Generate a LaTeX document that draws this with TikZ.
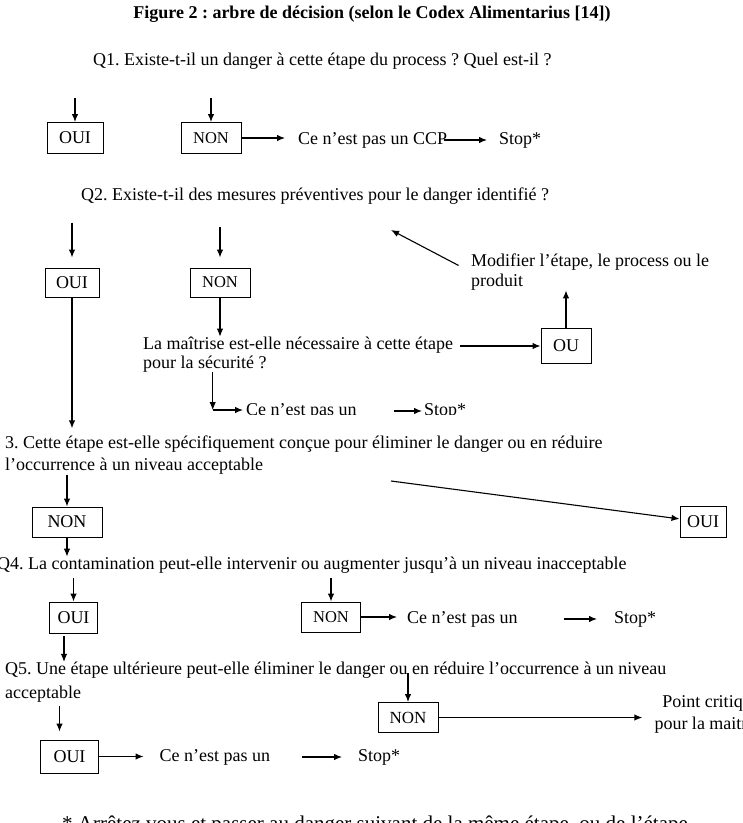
\documentclass[tikz,border=0pt]{standalone}
\usepackage{fontspec}
\setmainfont{Liberation Serif}
\usetikzlibrary{positioning,arrows.meta}
\frenchspacing

\begin{document}
\begin{tikzpicture}[
  x=1pt, y=-1pt,
  answer/.style={draw, line width=1pt, minimum width=56pt, minimum height=31pt, inner sep=0pt},
  question/.style={anchor=west, inner sep=0pt, align=left},
  link/.style={line width=1.1pt, -{Latex[length=8pt,width=6.5pt]}},
  every node/.style={font=\fontsize{18}{20.5}\selectfont}
]
\useasboundingbox (0,0) rectangle (743,823);
\clip (0,0) rectangle (743,823);

\node[font=\bfseries\fontsize{18}{20}\selectfont] (title) at (372,14)
  {Figure 2 : arbre de décision (selon le Codex Alimentarius [14])};

% Q1
\node[question] (q1) at (93,61) {Q1. Existe-t-il un danger à cette étape du process ? Quel est-il ?};
\node[answer] (q1oui) at (75,138) {OUI};
\node[answer, minimum width=60pt, font=\fontsize{16.5}{18}\selectfont] (q1non) at (211,138) {NON};
\node[question] (q1ccp) at (298,140) {Ce n’est pas un CCP};
\node[question] (q1stop) at (499,140) {Stop*};
\coordinate[above=24pt of q1oui.north] (q1in1);
\coordinate[above=24pt of q1non.north] (q1in2);
\draw[link] (q1in1) -- (q1oui);
\draw[link] (q1in2) -- (q1non);
\draw[link, shorten >=13pt] (q1non) -- (q1non -| q1ccp.west);
\draw[link, shorten <=-3pt, shorten >=12pt] (q1ccp.east) -- (q1stop.west);

% Q2
\node[question] (q2) at (81,196) {Q2. Existe-t-il des mesures préventives pour le danger identifié ?};
\node[answer, minimum width=54pt, minimum height=29pt] (q2oui) at (72,282.5) {OUI};
\node[answer, minimum width=60pt, minimum height=29pt, font=\fontsize{16.5}{18}\selectfont] (q2non) at (220,282.5) {NON};
\coordinate[above=45pt of q2oui.north] (q2in1);
\coordinate[above=41pt of q2non.north] (q2in2);
\draw[link, shorten >=10pt] (q2in1) -- (q2oui);
\draw[link, shorten >=10pt] (q2in2) -- (q2non);

\node[question, font=\fontsize{18}{19}\selectfont] (q2maitrise) at (143,354.5)
  {La maîtrise est-elle nécessaire à cette étape\\pour la sécurité ?};
\node[answer, minimum width=50pt, minimum height=35pt] (q2ou) at (566,346) {OU};
\node[question, font=\fontsize{18}{20}\selectfont] (q2modif) at (471,272)
  {Modifier l’étape, le process ou le\\produit};
\coordinate (q2back) at (391,230);
\draw[link] (q2non) -- (q2non.south |- q2maitrise.north);
\draw[link, shorten <=7pt] (q2maitrise.east |- q2ou) -- (q2ou);
\draw[link] (q2ou) -- (q2ou.north |- q2modif.south);
\draw[link, shorten <=14pt] (q2modif.west) -- (q2back);

\coordinate (q2turn) at (212.7,410);
\begin{scope}
  \clip (230,395) rectangle (480,414.5);
  \node[question] (q2ccp) at (246,411) {Ce n’est pas un};
  \node[question] (q2stop) at (424,411) {Stop*};
\end{scope}
\draw[link] (q2turn |- q2maitrise.south) -- (q2turn);
\draw[link, shorten >=3pt] (q2turn) -- (q2turn -| q2ccp.west);
\draw[link, shorten <=37pt, shorten >=2pt] (q2ccp.east) -- (q2stop.west);

% Q3
\node[question, font=\fontsize{18}{22.5}\selectfont] (q3) at (5,455)
  {3. Cette étape est-elle spécifiquement conçue pour éliminer le danger ou en réduire\\l’occurrence à un niveau acceptable};
\draw[link, shorten >=7pt] (q2oui) -- (q2oui.south |- q3.north);
\node[answer, minimum width=70pt, minimum height=30pt] (q3non) at (67,522) {NON};
\node[answer, minimum width=46pt] (q3oui) at (703,522) {OUI};
\coordinate (q3from) at (391,481);
\draw[link] (q3non.north |- q3.south) -- (q3non);
\draw[link] (q3from) -- (q3oui);

% Q4
\node[question] (q4) at (-3,565) {Q4. La contamination peut-elle intervenir ou augmenter jusqu’à un niveau inacceptable};
\draw[link] (q3non) -- (q3non.south |- q4.north);
\node[answer, minimum width=48pt] (q4oui) at (73.5,617.5) {OUI};
\node[answer, minimum width=59pt, minimum height=30pt, font=\fontsize{16.5}{18}\selectfont] (q4non) at (331,617) {NON};
\node[question] (q4ccp) at (407,619) {Ce n’est pas un};
\node[question] (q4stop) at (614,619) {Stop*};
\coordinate[above=24pt of q4oui.north] (q4in1);
\coordinate[above=24pt of q4non.north] (q4in2);
\draw[link] (q4in1) -- (q4oui);
\draw[link] (q4in2) -- (q4non);
\draw[link, shorten >=10pt] (q4non) -- (q4non -| q4ccp.west);
\draw[link, shorten <=46pt, shorten >=17pt] (q4ccp.east) -- (q4stop.west);

% Q5
\node[question, font=\fontsize{18}{23.5}\selectfont] (q5) at (5,682)
  {Q5. Une étape ultérieure peut-elle éliminer le danger ou en réduire l’occurrence à un niveau\\acceptable};
\coordinate (q4down) at (64,636);
\draw[link] (q4down) -- (q4down |- q5.north);
\node[answer, minimum width=60pt, minimum height=30pt, font=\fontsize{17}{18}\selectfont] (q5non) at (408,717.5) {NON};
\node[answer, minimum width=58pt, minimum height=33pt] (q5oui) at (69.5,756.5) {OUI};
\node[align=center, inner sep=0pt, font=\fontsize{18}{22}\selectfont] (q5ccp) at (711,714.5)
  {Point critique\\pour la maitrise};
\node[question] (q5ccp2) at (159.5,757) {Ce n’est pas un};
\node[question] (q5stop) at (358,757) {Stop*};
\coordinate[above=29pt of q5non.north] (q5in2);
\coordinate (q5in1) at (59.5,706);
\draw[link] (q5in2) -- (q5non);
\draw[link, shorten >=8pt] (q5in1) -- (q5in1 |- q5oui.north);
\draw[link, shorten >=12pt] (q5non) -- (q5non -| q5ccp.west);
\draw[link, shorten >=16pt] (q5oui) -- (q5oui -| q5ccp2.west);
\draw[link, shorten <=32pt, shorten >=16pt] (q5ccp2.east) -- (q5stop.west);

\node[anchor=base west, inner sep=0pt, font=\fontsize{21}{24}\selectfont] (note) at (62,830)
  {* Arrêtez vous et passer au danger suivant de la même étape, ou de l’étape};
\end{tikzpicture}
\end{document}
